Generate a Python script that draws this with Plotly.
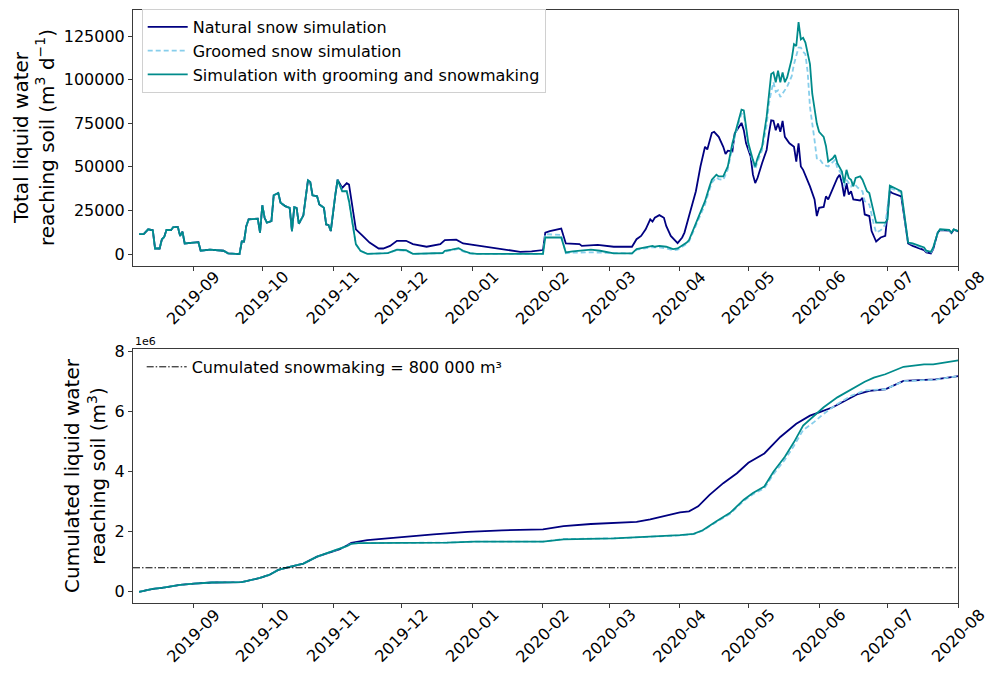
import plotly.graph_objects as go

# ---------------- data ----------------
months = ["2019-09-01", "2019-10-01", "2019-11-01", "2019-12-01", "2020-01-01", "2020-02-01",
          "2020-03-01", "2020-04-01", "2020-05-01", "2020-06-01", "2020-07-01", "2020-08-01"]
month_labels = ["2019-09", "2019-10", "2019-11", "2019-12", "2020-01", "2020-02",
                "2020-03", "2020-04", "2020-05", "2020-06", "2020-07", "2020-08"]

# daily values shared by the three simulations (before snow season)
shared_dates = ["2019-08-08", "2019-08-10", "2019-08-12", "2019-08-14", "2019-08-15", "2019-08-17",
                "2019-08-18", "2019-08-19", "2019-08-20", "2019-08-22", "2019-08-23", "2019-08-25",
                "2019-08-26", "2019-08-27", "2019-08-28", "2019-08-31", "2019-09-03", "2019-09-04",
                "2019-09-08", "2019-09-14", "2019-09-16", "2019-09-21", "2019-09-22", "2019-09-23",
                "2019-09-24", "2019-09-25", "2019-09-29", "2019-09-30", "2019-10-01", "2019-10-02",
                "2019-10-03", "2019-10-05", "2019-10-06", "2019-10-08", "2019-10-09", "2019-10-11",
                "2019-10-13", "2019-10-14", "2019-10-15", "2019-10-16", "2019-10-17", "2019-10-19",
                "2019-10-21", "2019-10-22", "2019-10-23", "2019-10-25", "2019-10-26", "2019-10-28",
                "2019-10-29", "2019-10-30", "2019-10-31", "2019-11-02", "2019-11-03"]
shared_daily = [11400, 11400, 14200, 13600, 3200, 3200,
                8500, 9800, 13800, 13800, 15500, 15500,
                10400, 12900, 6100, 6400, 6800, 1900,
                2500, 1900, 400, 0, 7200, 7200,
                16100, 19900, 20300, 12300, 28000, 20800,
                18000, 18900, 33700, 35000, 29400, 27500,
                26500, 13200, 26900, 26500, 17400, 22200,
                42200, 41300, 33700, 33100, 28400, 26500,
                17000, 16700, 13200, 34100, 42600]

natural_dates = ["2019-11-05", "2019-11-07", "2019-11-08", "2019-11-09", "2019-11-10", "2019-11-11",
                 "2019-11-14", "2019-11-17", "2019-11-21", "2019-11-23", "2019-11-26", "2019-11-29",
                 "2019-12-03", "2019-12-06", "2019-12-12", "2019-12-18", "2019-12-20", "2019-12-25",
                 "2019-12-28", "2020-01-01", "2020-01-07", "2020-01-15", "2020-01-22", "2020-01-27",
                 "2020-02-01", "2020-02-02", "2020-02-04", "2020-02-09", "2020-02-11", "2020-02-17",
                 "2020-02-18", "2020-02-25", "2020-03-01", "2020-03-03", "2020-03-11", "2020-03-13",
                 "2020-03-15", "2020-03-17", "2020-03-19", "2020-03-20", "2020-03-21", "2020-03-23",
                 "2020-03-25", "2020-03-26", "2020-03-28", "2020-03-30", "2020-03-31", "2020-04-02",
                 "2020-04-03", "2020-04-05", "2020-04-08", "2020-04-10", "2020-04-12", "2020-04-13",
                 "2020-04-15", "2020-04-16", "2020-04-18", "2020-04-20", "2020-04-21", "2020-04-22",
                 "2020-04-24", "2020-04-25", "2020-04-27", "2020-04-28", "2020-04-29", "2020-04-30",
                 "2020-05-02", "2020-05-03", "2020-05-04", "2020-05-05", "2020-05-07", "2020-05-09",
                 "2020-05-10", "2020-05-11", "2020-05-12", "2020-05-13", "2020-05-14", "2020-05-15",
                 "2020-05-16", "2020-05-17", "2020-05-19", "2020-05-21", "2020-05-22", "2020-05-23",
                 "2020-05-24", "2020-05-25", "2020-05-28", "2020-05-30", "2020-05-31", "2020-06-01",
                 "2020-06-03", "2020-06-04", "2020-06-05", "2020-06-07", "2020-06-09", "2020-06-10",
                 "2020-06-11", "2020-06-12", "2020-06-13", "2020-06-14", "2020-06-15", "2020-06-16",
                 "2020-06-19", "2020-06-20", "2020-06-21", "2020-06-23", "2020-06-24", "2020-06-26",
                 "2020-06-28", "2020-06-30", "2020-07-02", "2020-07-03", "2020-07-07", "2020-07-10",
                 "2020-07-12", "2020-07-17", "2020-07-18", "2020-07-20", "2020-07-21", "2020-07-23",
                 "2020-07-24", "2020-07-28", "2020-07-29", "2020-07-30", "2020-08-01"]
natural_daily = [37900, 40700, 39800, 30300, 20800, 14200,
                 10400, 6600, 3200, 3200, 4700, 7600,
                 7600, 5700, 4200, 5700, 8000, 8300,
                 6100, 5300, 4500, 2800, 1300, 1500,
                 2300, 12300, 13200, 14600, 6100, 5700,
                 4700, 5300, 4700, 4200, 4200, 8500,
                 10400, 14200, 19900, 18600, 20800, 22300,
                 20800, 16100, 10400, 7600, 6300, 9500,
                 12300, 21800, 36000, 50200, 61500, 60000,
                 69500, 70100, 67200, 61500, 57400, 59300,
                 58800, 69100, 72900, 75200, 71000, 63500,
                 55900, 45500, 40700, 43600, 52100, 59700,
                 69100, 76700, 76400, 71000, 74800, 70100,
                 76300, 67200, 63500, 61500, 53000, 63500,
                 50200, 48300, 38800, 31300, 21800, 26500,
                 27000, 33100, 31300, 37900, 43600, 45500,
                 40700, 33100, 40700, 34100, 36000, 31300,
                 30700, 32200, 22700, 21800, 13200, 7200,
                 9500, 10400, 36000, 35000, 33100, 6100,
                 4700, 2300, 950, 400, 2800, 12300,
                 13800, 13500, 12000, 14000, 13000]

groomed_dates = ["2019-11-05", "2019-11-07", "2019-11-08", "2019-11-10", "2019-11-11", "2019-11-13",
                 "2019-11-16", "2019-11-25", "2019-11-29", "2019-12-03", "2019-12-06", "2019-12-19",
                 "2019-12-20", "2019-12-23", "2019-12-26", "2019-12-28", "2019-12-31", "2020-01-03",
                 "2020-02-01", "2020-02-02", "2020-02-09", "2020-02-11", "2020-02-14", "2020-02-22",
                 "2020-02-26", "2020-03-03", "2020-03-11", "2020-03-13", "2020-03-17", "2020-03-20",
                 "2020-03-21", "2020-03-23", "2020-03-26", "2020-03-29", "2020-03-31", "2020-04-02",
                 "2020-04-04", "2020-04-05", "2020-04-07", "2020-04-10", "2020-04-12", "2020-04-14",
                 "2020-04-15", "2020-04-17", "2020-04-18", "2020-04-20", "2020-04-22", "2020-04-24",
                 "2020-04-26", "2020-04-28", "2020-04-29", "2020-04-30", "2020-05-01", "2020-05-03",
                 "2020-05-04", "2020-05-05", "2020-05-07", "2020-05-09", "2020-05-10", "2020-05-11",
                 "2020-05-12", "2020-05-13", "2020-05-14", "2020-05-15", "2020-05-16", "2020-05-18",
                 "2020-05-20", "2020-05-21", "2020-05-23", "2020-05-24", "2020-05-25", "2020-05-26",
                 "2020-05-27", "2020-05-28", "2020-05-30", "2020-05-31", "2020-06-01", "2020-06-02",
                 "2020-06-03", "2020-06-05", "2020-06-07", "2020-06-08", "2020-06-09", "2020-06-11",
                 "2020-06-12", "2020-06-13", "2020-06-15", "2020-06-16", "2020-06-18", "2020-06-20",
                 "2020-06-21", "2020-06-23", "2020-06-25", "2020-06-26", "2020-06-28", "2020-06-30",
                 "2020-07-02", "2020-07-03", "2020-07-07", "2020-07-10", "2020-07-12", "2020-07-17",
                 "2020-07-18", "2020-07-20", "2020-07-21", "2020-07-23", "2020-07-24", "2020-07-28",
                 "2020-07-29", "2020-07-30", "2020-08-01"]
groomed_daily = [36500, 36000, 30000, 12000, 5500, 1900,
                 100, 600, 2200, 2000, 100, 500,
                 1500, 2200, 3000, 1500, 300, 100,
                 100, 11400, 11000, 500, 800, 1000,
                 800, 300, 300, 2500, 3500, 4000,
                 3800, 3800, 3300, 2100, 2500, 4000,
                 5800, 7200, 13000, 22000, 28500, 37000,
                 41000, 44000, 43000, 42500, 48500, 61500,
                 72000, 80500, 80000, 71000, 62000, 52500,
                 48500, 53000, 59500, 74000, 86000, 93000,
                 98500, 93000, 93800, 90000, 91900, 96000,
                 102000, 108900, 118400, 118400, 116000, 114600,
                 104100, 84300, 65300, 54900, 54900, 53000,
                 51100, 50200, 53000, 54000, 49300, 45500,
                 38800, 42600, 38800, 41000, 38000, 36000,
                 30300, 28400, 17000, 12300, 13600, 17000,
                 37900, 37500, 35500, 6400, 5800, 3000,
                 1500, 900, 3300, 12300, 14000, 13600,
                 12200, 14100, 13100]

snowmaking_dates = ["2019-11-05", "2019-11-07", "2019-11-08", "2019-11-10", "2019-11-11", "2019-11-13",
                    "2019-11-16", "2019-11-25", "2019-11-29", "2019-12-03", "2019-12-06", "2019-12-19",
                    "2019-12-20", "2019-12-23", "2019-12-26", "2019-12-28", "2019-12-31", "2020-01-03",
                    "2020-02-01", "2020-02-02", "2020-02-09", "2020-02-11", "2020-02-14", "2020-02-22",
                    "2020-02-26", "2020-03-03", "2020-03-11", "2020-03-13", "2020-03-17", "2020-03-20",
                    "2020-03-21", "2020-03-23", "2020-03-26", "2020-03-29", "2020-03-31", "2020-04-02",
                    "2020-04-04", "2020-04-05", "2020-04-07", "2020-04-10", "2020-04-12", "2020-04-14",
                    "2020-04-15", "2020-04-17", "2020-04-18", "2020-04-20", "2020-04-22", "2020-04-24",
                    "2020-04-26", "2020-04-28", "2020-04-29", "2020-04-30", "2020-05-01", "2020-05-03",
                    "2020-05-04", "2020-05-05", "2020-05-07", "2020-05-09", "2020-05-10", "2020-05-11",
                    "2020-05-12", "2020-05-13", "2020-05-14", "2020-05-15", "2020-05-16", "2020-05-17",
                    "2020-05-18", "2020-05-20", "2020-05-21", "2020-05-22", "2020-05-23", "2020-05-24",
                    "2020-05-25", "2020-05-26", "2020-05-28", "2020-05-29", "2020-05-31", "2020-06-01",
                    "2020-06-03", "2020-06-04", "2020-06-05", "2020-06-07", "2020-06-08", "2020-06-09",
                    "2020-06-11", "2020-06-12", "2020-06-13", "2020-06-14", "2020-06-15", "2020-06-16",
                    "2020-06-17", "2020-06-19", "2020-06-20", "2020-06-22", "2020-06-23", "2020-06-25",
                    "2020-06-26", "2020-06-30", "2020-07-01", "2020-07-02", "2020-07-04", "2020-07-05",
                    "2020-07-07", "2020-07-10", "2020-07-12", "2020-07-17", "2020-07-18", "2020-07-20",
                    "2020-07-21", "2020-07-23", "2020-07-24", "2020-07-28", "2020-07-29", "2020-07-30",
                    "2020-08-01"]
snowmaking_daily = [36000, 36000, 30300, 12300, 5700, 1900,
                    100, 570, 2500, 2200, 100, 600,
                    1900, 2500, 3400, 1900, 500, 100,
                    100, 9500, 9500, 950, 1500, 2500,
                    1900, 400, 400, 2800, 3800, 4700,
                    4200, 4700, 4200, 2800, 3200, 4700,
                    6600, 8000, 14200, 23700, 30300, 38800,
                    42600, 45500, 44500, 44500, 50200, 63500,
                    73900, 82800, 82400, 72900, 63500, 54000,
                    50200, 54900, 61500, 78600, 91900, 103200,
                    104100, 98500, 105100, 98500, 104100, 98500,
                    101300, 111800, 120300, 119300, 133000, 123100,
                    124000, 121200, 108900, 91900, 74800, 70100,
                    67200, 62000, 53000, 54900, 56800, 52100,
                    47300, 40700, 48300, 43600, 42600, 38800,
                    43600, 44500, 42600, 36000, 35000, 24600,
                    18000, 18000, 19900, 39200, 37900, 36900,
                    36000, 6600, 6100, 3800, 1900, 1300,
                    3800, 12300, 14200, 13800, 12300, 14200,
                    13200]

# cumulated values (m3)
shared_cum_dates = ["2019-08-08", "2019-08-14", "2019-08-18", "2019-08-26", "2019-09-01", "2019-09-09",
                    "2019-09-22", "2019-09-30", "2019-10-04", "2019-10-08", "2019-10-13", "2019-10-19",
                    "2019-10-25", "2019-10-31", "2019-11-04"]
shared_cum = [0, 0.10e6, 0.13e6, 0.23e6, 0.27e6, 0.31e6,
              0.32e6, 0.46e6, 0.56e6, 0.73e6, 0.83e6, 0.94e6,
              1.17e6, 1.32e6, 1.42e6]

natural_cum_dates = ["2019-11-07", "2019-11-09", "2019-11-16", "2019-11-30", "2019-12-15", "2019-12-30",
                     "2020-01-14", "2020-02-01", "2020-02-10", "2020-02-22", "2020-03-13", "2020-03-19",
                     "2020-03-28", "2020-04-01", "2020-04-05", "2020-04-09", "2020-04-14", "2020-04-20",
                     "2020-04-26", "2020-05-01", "2020-05-08", "2020-05-15", "2020-05-22", "2020-05-28",
                     "2020-06-01", "2020-06-07", "2020-06-13", "2020-06-18", "2020-06-23", "2020-06-30",
                     "2020-07-08", "2020-07-22", "2020-08-01"]
natural_cum = [1.54e6, 1.63e6, 1.72e6, 1.80e6, 1.91e6, 2.00e6,
               2.05e6, 2.08e6, 2.19e6, 2.26e6, 2.33e6, 2.41e6,
               2.59e6, 2.65e6, 2.68e6, 2.85e6, 3.23e6, 3.62e6,
               3.95e6, 4.30e6, 4.61e6, 5.16e6, 5.60e6, 5.87e6,
               5.98e6, 6.15e6, 6.39e6, 6.59e6, 6.70e6, 6.75e6,
               7.03e6, 7.08e6, 7.19e6]

groomed_cum_dates = ["2019-11-07", "2019-11-09", "2019-11-12", "2019-12-21", "2020-01-02", "2020-02-01",
                     "2020-02-10", "2020-03-03", "2020-03-18", "2020-04-01", "2020-04-07", "2020-04-11",
                     "2020-04-17", "2020-04-23", "2020-04-29", "2020-05-03", "2020-05-08", "2020-05-12",
                     "2020-05-17", "2020-05-21", "2020-05-25", "2020-05-30", "2020-06-03", "2020-06-09",
                     "2020-06-15", "2020-06-21", "2020-06-30", "2020-07-08", "2020-07-22", "2020-08-01"]
groomed_cum = [1.52e6, 1.60e6, 1.62e6, 1.64e6, 1.67e6, 1.67e6,
               1.76e6, 1.78e6, 1.82e6, 1.88e6, 1.92e6, 2.04e6,
               2.33e6, 2.60e6, 3.03e6, 3.25e6, 3.45e6, 3.92e6,
               4.40e6, 4.87e6, 5.39e6, 5.67e6, 5.93e6, 6.26e6,
               6.53e6, 6.71e6, 6.75e6, 7.02e6, 7.07e6, 7.19e6]

snowmaking_cum_dates = ["2019-11-07", "2019-11-09", "2019-11-12", "2019-12-21", "2020-01-02", "2020-02-01",
                        "2020-02-10", "2020-03-03", "2020-03-18", "2020-04-01", "2020-04-07", "2020-04-11",
                        "2020-04-17", "2020-04-23", "2020-04-29", "2020-05-03", "2020-05-08", "2020-05-12",
                        "2020-05-17", "2020-05-21", "2020-05-25", "2020-05-30", "2020-06-03", "2020-06-09",
                        "2020-06-15", "2020-06-21", "2020-06-25", "2020-06-30", "2020-07-08", "2020-07-17",
                        "2020-07-21", "2020-08-01"]
snowmaking_cum = [1.52e6, 1.60e6, 1.62e6, 1.64e6, 1.67e6, 1.67e6,
                  1.75e6, 1.78e6, 1.825e6, 1.89e6, 1.93e6, 2.05e6,
                  2.35e6, 2.63e6, 3.07e6, 3.29e6, 3.51e6, 4.00e6,
                  4.50e6, 4.99e6, 5.54e6, 5.87e6, 6.15e6, 6.48e6,
                  6.75e6, 7.00e6, 7.14e6, 7.25e6, 7.50e6, 7.58e6,
                  7.58e6, 7.71e6]

snowmaking_total = 800000

names = ["Natural snow simulation", "Groomed snow simulation", "Simulation with grooming and snowmaking"]
colors = ["#000080", "#87ceeb", "#008b8b"]
dashes = ["solid", "5px,3px", "solid"]

# ---------------- figure ----------------
W, H = 987, 673
x_dom = [133 / W, 958.3 / W]
top_dom = [1 - 262 / H, 1 - 4.5 / H]
bot_dom = [1 - 602.7 / H, 1 - 345.7 / H]
x_range = ["2019-08-05 08:00", "2020-08-01"]
FONT = "DejaVu Sans"

daily = [
    (shared_dates + natural_dates, shared_daily + natural_daily),
    (shared_dates + groomed_dates, shared_daily + groomed_daily),
    (shared_dates + snowmaking_dates, shared_daily + snowmaking_daily),
]
cumul = [
    (shared_cum_dates + natural_cum_dates, shared_cum + natural_cum),
    (shared_cum_dates + groomed_cum_dates, shared_cum + groomed_cum),
    (shared_cum_dates + snowmaking_cum_dates, shared_cum + snowmaking_cum),
]

fig = go.Figure()
for i in range(3):
    fig.add_trace(go.Scatter(x=daily[i][0], y=daily[i][1], mode="lines", name=names[i],
                             line=dict(color=colors[i], width=1.8, dash=dashes[i]),
                             xaxis="x", yaxis="y", legend="legend"))
for i in range(3):
    fig.add_trace(go.Scatter(x=cumul[i][0], y=cumul[i][1], mode="lines", name=names[i],
                             line=dict(color=colors[i], width=1.8, dash=dashes[i]),
                             xaxis="x2", yaxis="y2", showlegend=False))

fig.add_shape(type="line", xref="x2 domain", x0=0, x1=1, yref="y2",
              y0=snowmaking_total, y1=snowmaking_total,
              line=dict(color="black", width=1, dash="7px,2px,1.5px,2px"),
              showlegend=True, name="Cumulated snowmaking = 800 000 m³", legend="legend2")

axis_common = dict(showline=True, linecolor="#3a3a3a", linewidth=1, mirror=True,
                   showgrid=False, zeroline=False, ticks="outside", ticklen=4,
                   tickcolor="#3a3a3a", tickfont=dict(size=16, color="black", family=FONT))

fig.update_layout(
    width=W, height=H,
    margin=dict(l=0, r=0, t=0, b=0),
    paper_bgcolor="white", plot_bgcolor="white",
    font=dict(family=FONT, color="black"),
    xaxis=dict(domain=x_dom, anchor="y", type="date", range=x_range,
               tickvals=months, showticklabels=False, **axis_common),
    yaxis=dict(domain=top_dom, anchor="x", range=[-6650, 139650],
               tickvals=[0, 25000, 50000, 75000, 100000, 125000], tickformat="d", **axis_common),
    xaxis2=dict(domain=x_dom, anchor="y2", type="date", range=x_range,
                tickvals=months, showticklabels=False, **axis_common),
    yaxis2=dict(domain=bot_dom, anchor="x2", range=[-0.385e6, 8.105e6],
                tickvals=[0, 2e6, 4e6, 6e6, 8e6], ticktext=["0", "2", "4", "6", "8"], **axis_common),
    legend=dict(x=141.7 / W, y=1 - 3 / H, xanchor="left", yanchor="top",
                bgcolor="white", bordercolor="#d0d0d0", borderwidth=1, itemwidth=40,
                font=dict(size=16, family=FONT, color="black"), tracegroupgap=0),
    legend2=dict(x=141.7 / W, y=1 - 347 / H, xanchor="left", yanchor="top",
                 bgcolor="rgba(255,255,255,0)", borderwidth=0, itemwidth=40,
                 font=dict(size=16, family=FONT, color="black")),
)

annotations = []
for xa, dom in (("x", top_dom), ("x2", bot_dom)):
    for d, lab in zip(months, month_labels):
        annotations.append(dict(x=d, xref=xa, y=dom[0], yref="paper", text=lab,
                                showarrow=False, textangle=-45, xanchor="center", yanchor="top",
                                yshift=1, font=dict(size=16, family=FONT, color="black")))
annotations.append(dict(x=34 / W, y=1 - 133.3 / H, xref="paper", yref="paper",
                        text="Total liquid water<br>reaching soil (m<sup>3</sup> d<sup>\u22121</sup>)",
                        showarrow=False, textangle=-90, xanchor="center", yanchor="middle",
                        font=dict(size=20, family=FONT, color="black")))
annotations.append(dict(x=85 / W, y=1 - 474.2 / H, xref="paper", yref="paper",
                        text="Cumulated liquid water<br>reaching soil (m<sup>3</sup>)",
                        showarrow=False, textangle=-90, xanchor="center", yanchor="middle",
                        font=dict(size=20, family=FONT, color="black")))
annotations.append(dict(x=133 / W, y=1 - 339 / H, xref="paper", yref="paper", text="1e6",
                        showarrow=False, xanchor="left", yanchor="middle",
                        font=dict(size=11, family=FONT, color="black")))
fig.update_layout(annotations=annotations)

# remove the browser's default 8px body margin so the figure fills the window exactly
fig.write_html("out.html", config={"displayModeBar": False},
               post_script="document.body.style.margin='0';document.body.style.overflow='hidden';")
